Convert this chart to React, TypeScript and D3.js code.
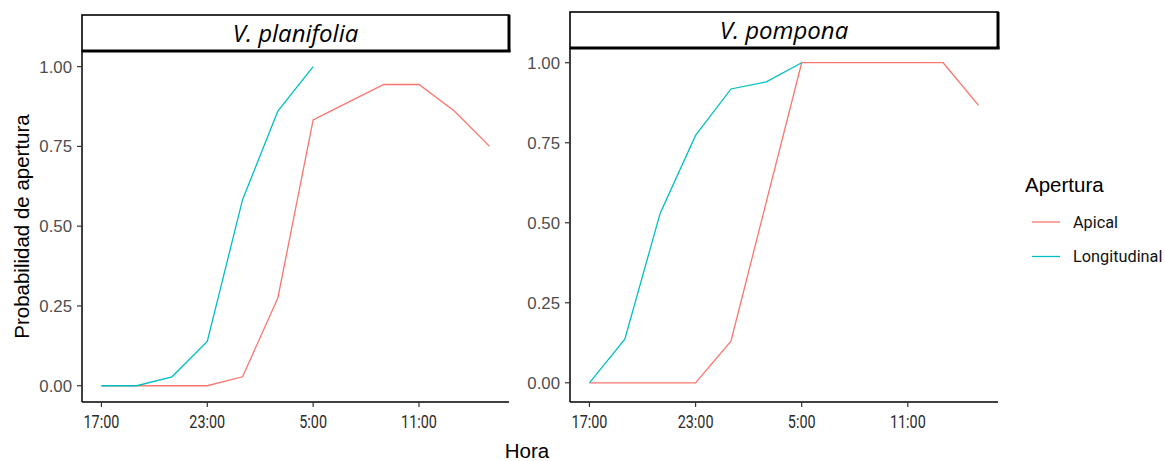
import React from "react";
import * as d3 from "d3";

const hoursLong = [0, 2, 4, 6, 8, 10, 12];
const hoursApical = [0, 2, 4, 6, 8, 10, 12, 14, 16, 18, 20, 22];

const planifoliaLongitudinal = [0, 0, 0.028, 0.139, 0.583, 0.861, 1.0];
const planifoliaApical = [0, 0, 0, 0, 0.028, 0.275, 0.833, 0.889, 0.944, 0.944, 0.861, 0.75];

const pomponaLongitudinal = [0, 0.136, 0.53, 0.773, 0.918, 0.94, 1.0];
const pomponaApical = [0, 0, 0, 0, 0.13, 0.565, 1, 1, 1, 1, 1, 0.867];

const xTickHours = [0, 6, 12, 18];
const xTickLabels = ["17:00", "23:00", "5:00", "11:00"];
const yTicks = [0, 0.25, 0.5, 0.75, 1.0];

const seriesNames = ["Apical", "Longitudinal"];
const seriesColors = ["#F8766D", "#00BFC4"];

const panels = [
  {
    title: "V. planifolia",
    apical: planifoliaApical,
    longitudinal: planifoliaLongitudinal,
    x0: 82, x1: 509, y0: 51, y1: 402, stripTop: 15,
    yDomain: [-0.051, 1.049],
  },
  {
    title: "V. pompona",
    apical: pomponaApical,
    longitudinal: pomponaLongitudinal,
    x0: 570, x1: 998, y0: 48, y1: 402, stripTop: 12,
    yDomain: [-0.06, 1.046],
  },
];

const tickFont = "'Liberation Sans', Arial, sans-serif";
const condFont = "Roboto, 'DejaVu Sans', sans-serif";

function Panel({ p }: { p: typeof panels[number] }) {
  const x = d3.scaleLinear().domain([-1.1, 23.1]).range([p.x0, p.x1]);
  const y = d3.scaleLinear().domain(p.yDomain).range([p.y1, p.y0]);
  const line = d3
    .line<[number, number]>()
    .x((d) => x(d[0]))
    .y((d) => y(d[1]));
  const apPts = hoursApical.map((h, i) => [h, p.apical[i]] as [number, number]);
  const loPts = hoursLong.map((h, i) => [h, p.longitudinal[i]] as [number, number]);
  const stripH = p.y0 - p.stripTop;
  return (
    <g>
      <path d={line(apPts) || ""} fill="none" stroke={seriesColors[0]} strokeWidth={1.3} />
      <path d={line(loPts) || ""} fill="none" stroke={seriesColors[1]} strokeWidth={1.3} />
      {/* axes */}
      <line x1={p.x0} x2={p.x0} y1={p.y0} y2={p.y1} stroke="#000" strokeWidth={1.5} />
      <line x1={p.x0} x2={p.x1} y1={p.y1} y2={p.y1} stroke="#000" strokeWidth={1.5} />
      {yTicks.map((t) => (
        <g key={t}>
          <line x1={p.x0 - 5} x2={p.x0} y1={y(t)} y2={y(t)} stroke="#333" strokeWidth={1.2} />
          <text
            x={p.x0 - 10}
            y={y(t)}
            dy="0.36em"
            textAnchor="end"
            fontFamily={tickFont}
            fontSize={16.8}
            fill="#4D4D4D"
          >
            {d3.format(".2f")(t)}
          </text>
        </g>
      ))}
      {xTickHours.map((h, i) => (
        <g key={h}>
          <line x1={x(h)} x2={x(h)} y1={p.y1} y2={p.y1 + 5} stroke="#333" strokeWidth={1.2} />
          <text
            transform={`translate(${x(h)},428) scale(0.8,1)`}
            textAnchor="middle"
            fontFamily={condFont}
            fontSize={18}
            fontWeight={400}
            fill="#2b2b2b"
          >
            {xTickLabels[i]}
          </text>
        </g>
      ))}
      {/* strip */}
      <rect x={p.x0} y={p.stripTop} width={p.x1 - p.x0} height={stripH} fill="#fff" stroke="#000" strokeWidth={1.6} />
      <line x1={p.x1} x2={p.x1} y1={p.stripTop} y2={p.y0 + 1} stroke="#000" strokeWidth={3} />
      <line x1={p.x0} x2={p.x1 + 1.5} y1={p.y0} y2={p.y0} stroke="#000" strokeWidth={3} />
      <text
        x={(p.x0 + p.x1) / 2}
        y={p.stripTop + stripH / 2}
        dy="0.36em"
        textAnchor="middle"
        fontFamily="'Open Sans', Lato, sans-serif"
        fontStyle="italic"
        fontSize={24}
        fill="#000"
      >
        {p.title}
      </text>
    </g>
  );
}

export default function App() {
  return (
    <svg
      width={1165}
      height={461}
      style={{ position: "absolute", left: 0, top: 0, background: "#fff" }}
    >
      <rect x={0} y={0} width={1165} height={461} fill="#fff" />
      {panels.map((p) => (
        <Panel key={p.title} p={p} />
      ))}
      <text
        transform="translate(29,226.5) rotate(-90)"
        textAnchor="middle"
        fontFamily={tickFont}
        fontSize={20.5}
        fill="#000"
      >
        Probabilidad de apertura
      </text>
      <text x={527} y={458} textAnchor="middle" fontFamily={tickFont} fontSize={20.5} fill="#000">
        Hora
      </text>
      {/* legend */}
      <text x={1025} y={192} fontFamily={tickFont} fontSize={20.5} fill="#000">
        Apertura
      </text>
      {seriesNames.map((s, i) => {
        const ly = 222 + i * 34.5;
        return (
          <g key={s}>
            <line x1={1032} x2={1060} y1={ly} y2={ly} stroke={seriesColors[i]} strokeWidth={1.3} />
            <text x={1073} y={ly} dy="0.36em" fontFamily={condFont} fontSize={16.3} fill="#111">
              {s}
            </text>
          </g>
        );
      })}
    </svg>
  );
}
